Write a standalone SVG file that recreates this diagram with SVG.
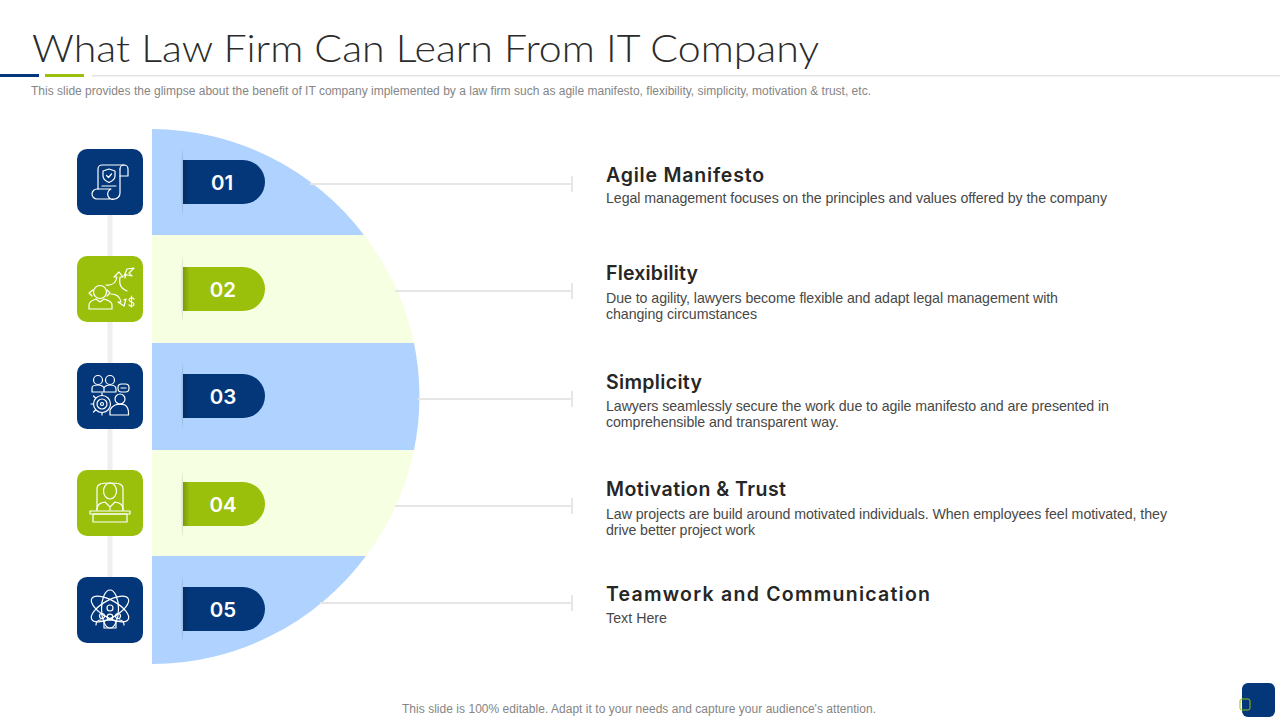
<svg xmlns="http://www.w3.org/2000/svg" width="1280" height="720" viewBox="0 0 1280 720">
<style>
.tile{stroke:none}
.navy{fill:#03377a}
.green{fill:#9bc00b}
.band-blue{fill:#afd2fe}
.band-lime{fill:#f6ffe2}
.ic{fill:none;stroke:#fff;stroke-width:1.2;stroke-linecap:round;stroke-linejoin:round}
.num{font:600 20.5px Inter,"Liberation Sans",sans-serif;fill:#fff;text-anchor:middle}
.head{font:600 19.500px Inter,"Liberation Sans",sans-serif;fill:#262626}
.body{font:14.2px "Liberation Sans",Arial,sans-serif;fill:#484848}
.note{font:12px "Liberation Sans",Arial,sans-serif;fill:#858585}
.conn{stroke:#e6e6e6;stroke-width:2;fill:none}
.soft{fill:url(#shade)}
</style>
<defs>
<linearGradient id="shade" x1="0" x2="1" y1="0" y2="0"><stop offset="0" stop-color="#000" stop-opacity="0"/><stop offset="1" stop-color="#000" stop-opacity=".12"/></linearGradient>
<linearGradient id="shadeIn" x1="0" x2="1" y1="0" y2="0"><stop offset="0" stop-color="#000" stop-opacity=".2"/><stop offset="1" stop-color="#000" stop-opacity="0"/></linearGradient>
</defs>
<rect width="1280" height="720" fill="#fff"/>

<g id="header">
<text x="32" y="62" font-family="Lato,'Open Sans',sans-serif" font-weight="300" font-size="38" fill="#2b2b2b" textLength="787" lengthAdjust="spacingAndGlyphs">What Law Firm Can Learn From IT Company</text>
<rect x="92" y="75" width="1188" height="1.500" fill="#e3e3e3"/>
<rect x="0" y="74" width="39" height="3" fill="#03377a"/>
<rect x="45" y="74" width="39" height="3" fill="#9bc00b"/>
<text class="note" x="31" y="95" textLength="840" lengthAdjust="spacing">This slide provides the glimpse about the benefit of IT company implemented by a law firm such as agile manifesto, flexibility, simplicity, motivation &amp; trust, etc.</text>
</g>

<rect id="spine" x="107.500" y="215" width="5" height="362" fill="#efefef"/>

<g id="semicircle">
<path class="band-blue" d="M152 129A267.500 267.500 0 0 1 364 235H152Z"/>
<path class="band-lime" d="M152 235H364A267.500 267.500 0 0 1 414 343H152Z"/>
<path class="band-blue" d="M152 343H414A267.500 267.500 0 0 1 414 450H152Z"/>
<path class="band-lime" d="M152 450H414A267.500 267.500 0 0 1 366 556H152Z"/>
<path class="band-blue" d="M152 556H366A267.500 267.500 0 0 1 152 664Z"/>
</g>

<g id="connectors">
<path class="conn" d="M310 184H572M572 176V192"/>
<path class="conn" d="M395 291H572M572 283V299"/>
<path class="conn" d="M418 399H572M572 391V407"/>
<path class="conn" d="M395 506H572M572 498V514"/>
<path class="conn" d="M320 603H572M572 595V611"/>
</g>

<g id="node-01">
<rect class="tile navy" x="77" y="149" width="66" height="66" rx="10"/>
<g class="ic">
<path d="M98 189V169a4 4 0 0 1 4-4h22a4 4 0 0 1 4 4v7h-8"/>
<path d="M120 169a4 4 0 0 1 4-4"/>
<path d="M120 169V193a6 6 0 0 1-6 6H97a5 5 0 0 1-5-5 5 5 0 0 1 5-5h14a5 5 0 0 0 4 10"/>
<path d="M109 169l6 2v5c0 3-2.500 5-6 6.500-3.500-1.500-6-3.500-6-6.500v-5z"/>
<path d="M106.500 175.500l2 2 3-3.500M102 186h14"/>
</g>
</g>
<g id="node-02">
<rect class="tile green" x="77" y="256" width="66" height="66" rx="10"/>
<g class="ic">
<circle cx="100" cy="292" r="6.500"/>
<path d="M89 309v-4c0-4 4-5 7-6l4 3 4-3c3 1 8 2 8 6v4zM93 290l-4 3 3 3M107 290l3 3-3 3"/>
<path d="M106 285c7 1 10-3 11-8l-3 0 5-5 4 5-3 0c-1 7 0 11 7 14"/>
<path d="M125 278l1-4M124 276l3-7 7-1-5 5 3 3-5-1"/>
<path d="M111 294c6 0 9 3 10 8l-3 0 6 4 2-7-2 1"/>
<path d="M134 299c-2-2-5-1-5 1s5 2 5 4-3 3-5 1M131.500 296v11"/>
</g>
</g>
<g id="node-03">
<rect class="tile navy" x="77" y="363" width="66" height="66" rx="10"/>
<g class="ic">
<circle cx="98" cy="380" r="4.500"/><circle cx="110" cy="380" r="4.500"/>
<path d="M92 392v-4c0-2 3-3 6-3s5 1 6 3c1-2 3-3 6-3s6 1 6 4v3zM104 388v4"/>
<rect x="118" y="384" width="11" height="8" rx="3.500"/>
<path d="M121 388h5"/>
<circle cx="102" cy="404" r="8.500"/><circle cx="102" cy="404" r="5"/><circle cx="102" cy="404" r="1.500"/>
<path d="M102 393v2.500M93.500 396l2 2M91 404h2.500M93.500 412l2-2M102 415v-2.500"/>
<circle cx="120" cy="399" r="5"/>
<path d="M110 415v-5c1-2 3-4 5-5 3-1 7-1 10 0 3 2 3.500 5 3.500 8v2z"/>
</g>
</g>
<g id="node-04">
<rect class="tile green" x="77" y="470" width="66" height="66" rx="10"/>
<g class="ic">
<path d="M97 510v-21c0-5 4-6 13-6s13 1 13 6v21"/>
<ellipse cx="110" cy="491" rx="6.500" ry="8"/>
<path d="M97 510c0-5 2-7 8-8l5 5 5-5c6 1 8 3 8 8M110 507v3"/>
<rect x="90" y="511" width="40" height="3"/>
<rect x="93" y="514" width="34" height="8"/>
</g>
</g>
<g id="node-05">
<rect class="tile navy" x="77" y="577" width="66" height="66" rx="10"/>
<g class="ic">
<ellipse cx="110" cy="609" rx="8.500" ry="19"/>
<ellipse cx="110" cy="609" rx="8.500" ry="21" transform="rotate(60 110 609)"/>
<ellipse cx="110" cy="609" rx="8.500" ry="21" transform="rotate(-60 110 609)"/>
<circle cx="110" cy="608" r="3"/>
<circle cx="110" cy="617" r="2.800"/><circle cx="102" cy="616" r="2.500"/><circle cx="118" cy="616" r="2.500"/>
<path d="M104 628v-5c0-2 3-3 6-3s6 1 6 3v5zM96 625c0-3 2-5 5-5M124 625c0-3-2-5-5-5"/>
</g>
</g>

<g id="pill-01">
<path class="soft" d="M183 148Q177 182 183 216Z"/>
<path class="navy" d="M183 160H243a22 22 0 0 1 0 44H183Z"/>
<rect x="183" y="160" width="7" height="44" fill="url(#shadeIn)"/>
<text class="num" x="222" y="190">01</text>
</g>
<g id="pill-02">
<path class="soft" d="M183 255Q177 289 183 323Z"/>
<path class="green" d="M183 267H243a22 22 0 0 1 0 44H183Z"/>
<rect x="183" y="267" width="7" height="44" fill="url(#shadeIn)"/>
<text class="num" x="223" y="297">02</text>
</g>
<g id="pill-03">
<path class="soft" d="M183 362Q177 396 183 430Z"/>
<path class="navy" d="M183 374H243a22 22 0 0 1 0 44H183Z"/>
<rect x="183" y="374" width="7" height="44" fill="url(#shadeIn)"/>
<text class="num" x="223" y="404">03</text>
</g>
<g id="pill-04">
<path class="soft" d="M183 470Q177 504 183 538Z"/>
<path class="green" d="M183 482H243a22 22 0 0 1 0 44H183Z"/>
<rect x="183" y="482" width="7" height="44" fill="url(#shadeIn)"/>
<text class="num" x="223" y="512">04</text>
</g>
<g id="pill-05">
<path class="soft" d="M183 575Q177 609 183 643Z"/>
<path class="navy" d="M183 587H243a22 22 0 0 1 0 44H183Z"/>
<rect x="183" y="587" width="7" height="44" fill="url(#shadeIn)"/>
<text class="num" x="223" y="617">05</text>
</g>

<g id="text-01">
<text class="head" x="606" y="182" textLength="158">Agile Manifesto</text>
<text class="body" x="606" y="203" textLength="501">Legal management focuses on the principles and values offered by the company</text>
</g>
<g id="text-02">
<text class="head" x="606" y="280" textLength="92">Flexibility</text>
<text class="body" x="606" y="303" textLength="452">Due to agility, lawyers become flexible and adapt legal management with</text>
<text class="body" x="606" y="319" textLength="151">changing circumstances</text>
</g>
<g id="text-03">
<text class="head" x="606" y="389" textLength="96">Simplicity</text>
<text class="body" x="606" y="411" textLength="503">Lawyers seamlessly secure the work due to agile manifesto and are presented in</text>
<text class="body" x="606" y="427" textLength="233">comprehensible and transparent way.</text>
</g>
<g id="text-04">
<text class="head" x="606" y="496" textLength="180">Motivation &amp; Trust</text>
<text class="body" x="606" y="519" textLength="561">Law projects are build around motivated individuals. When employees feel motivated, they</text>
<text class="body" x="606" y="535" textLength="149">drive better project work</text>
</g>
<g id="text-05">
<text class="head" x="606" y="601" textLength="324">Teamwork and Communication</text>
<text class="body" x="606" y="623" textLength="61">Text Here</text>
</g>

<g id="footer">
<text class="note" x="402" y="713" textLength="474">This slide is 100% editable. Adapt it to your needs and capture your audience's attention.</text>
<rect x="1242" y="683" width="33" height="34" rx="6" fill="#03377a"/>
<rect x="1240" y="699" width="10" height="11" rx="2" fill="none" stroke="#9bc00b" stroke-width="1"/>
</g>
</svg>
